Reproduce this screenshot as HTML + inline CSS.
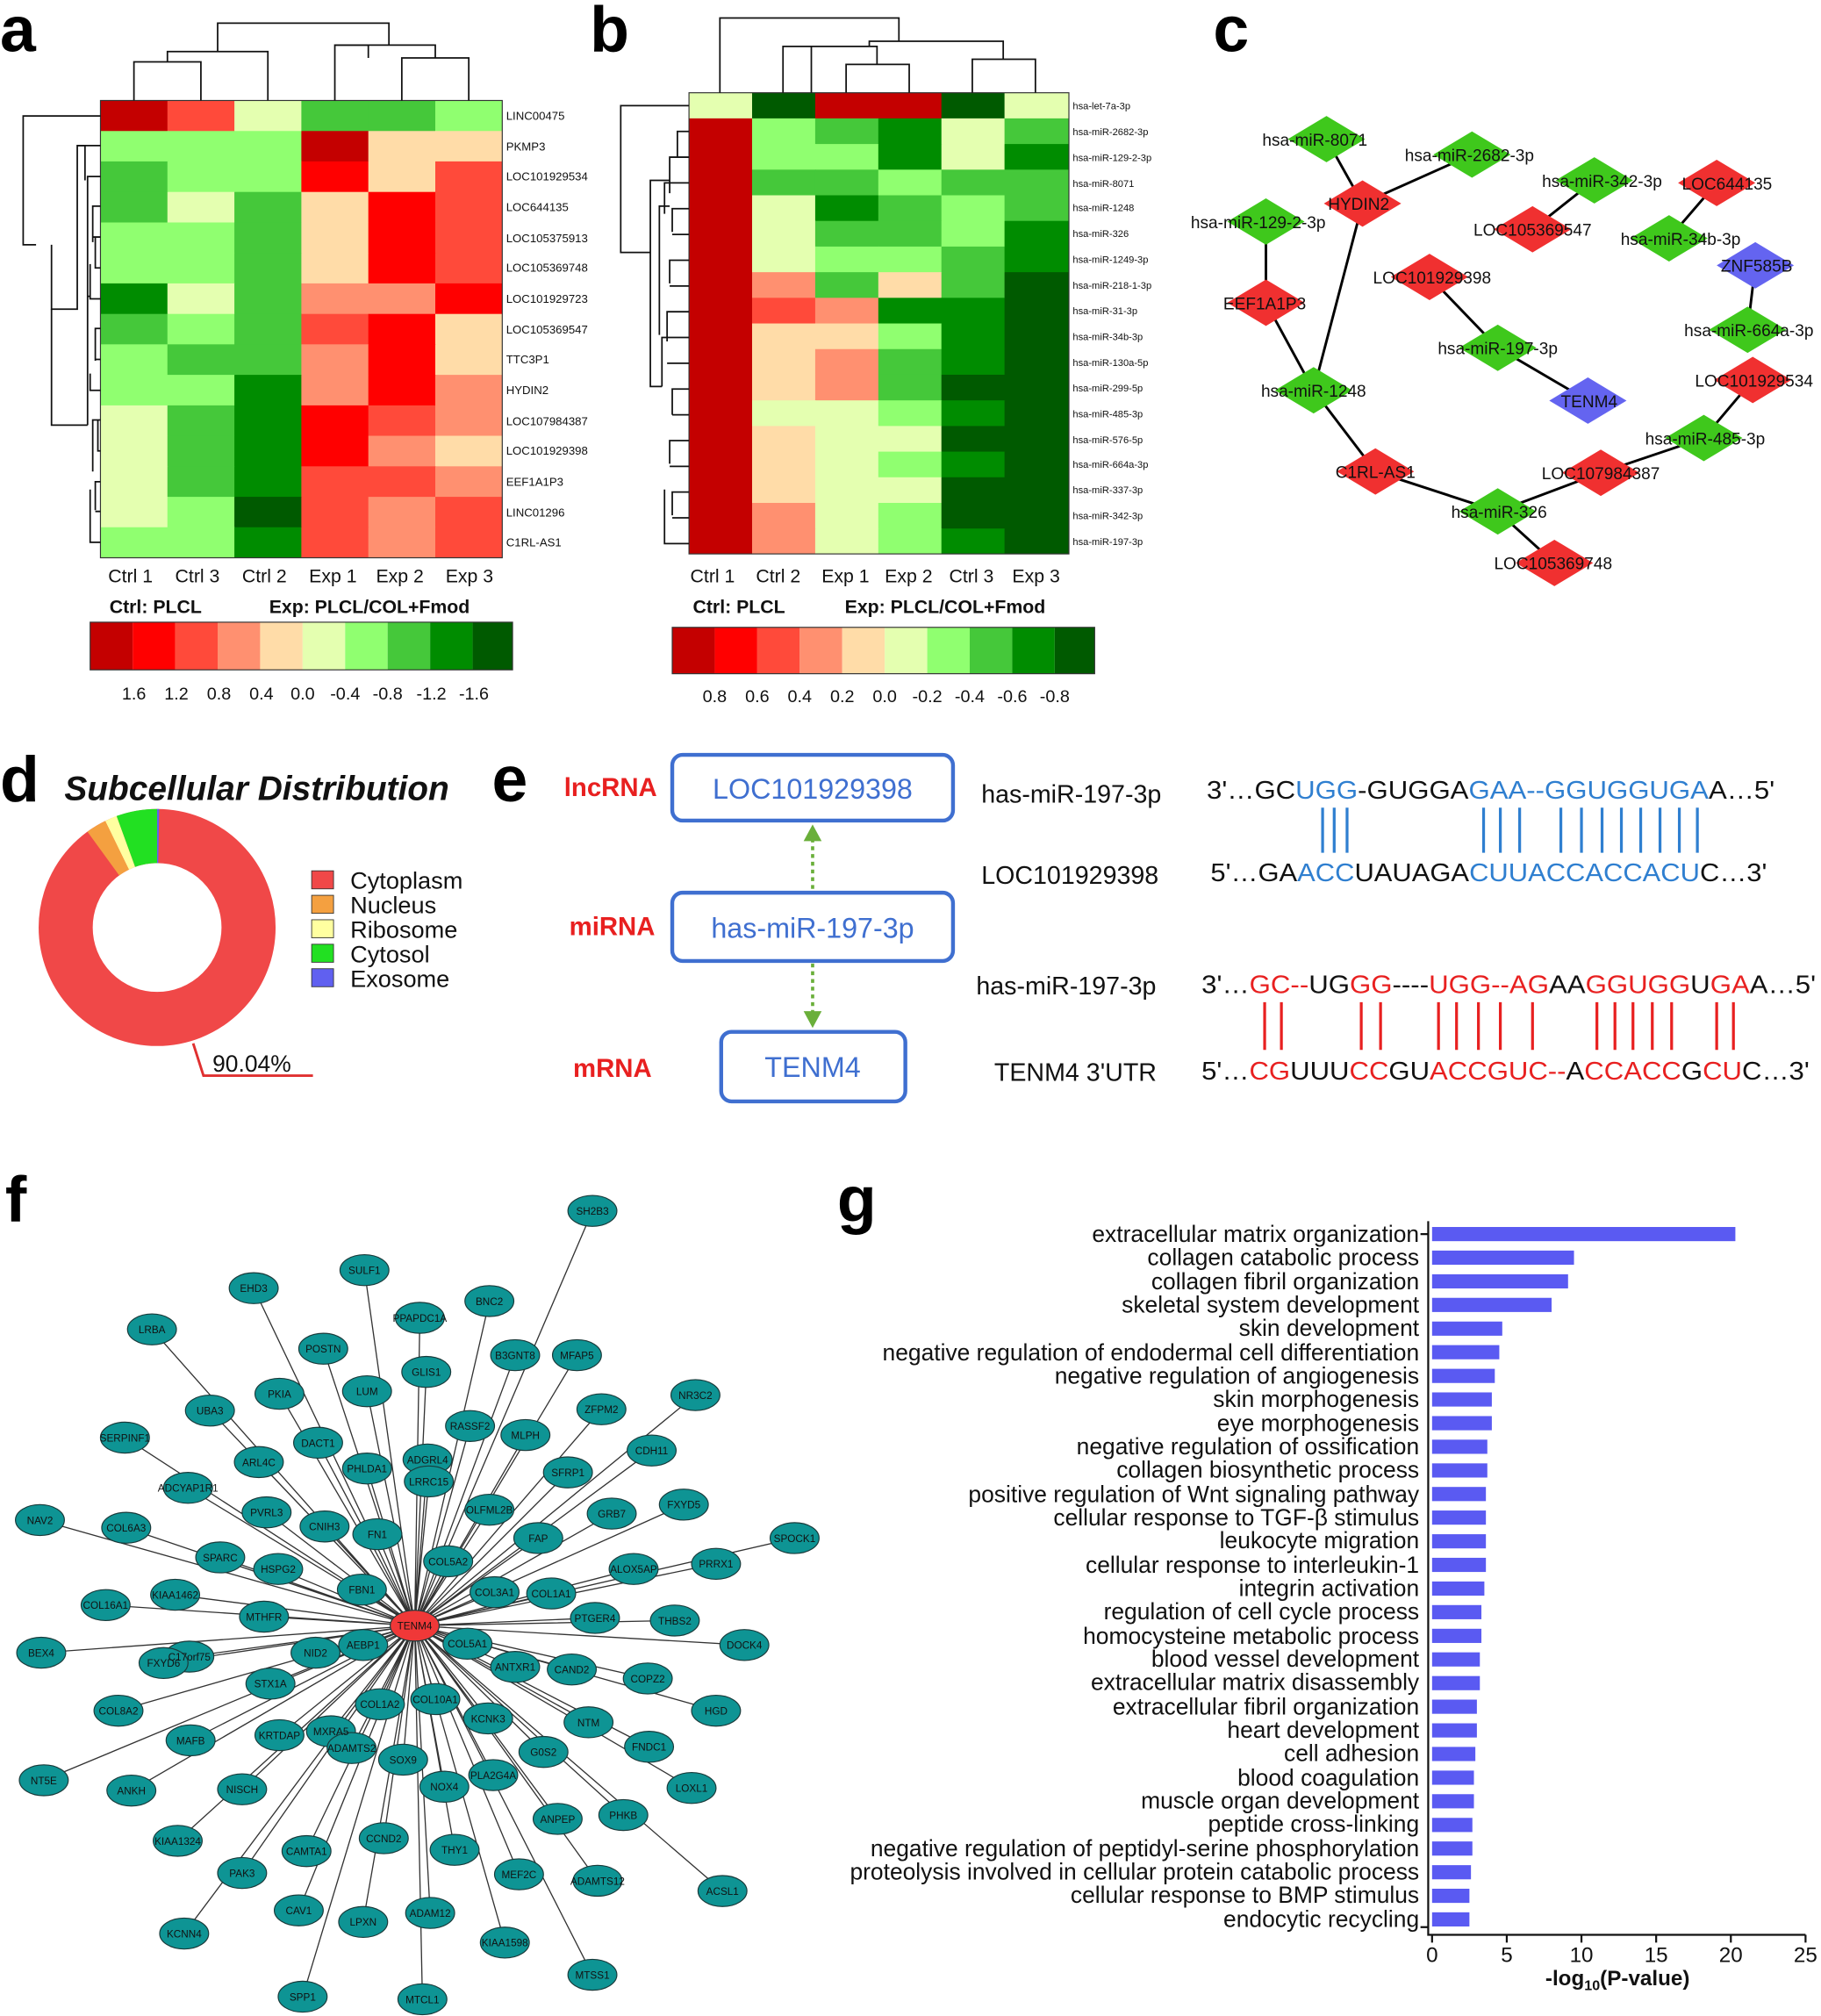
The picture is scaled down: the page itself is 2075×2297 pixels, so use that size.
<!DOCTYPE html>
<html><head><meta charset="utf-8"><style>
html,body{margin:0;padding:0;background:#fff;}
svg{display:block;font-family:"Liberation Sans",Arial,sans-serif;}
</style></head><body>
<svg width="2075" height="2297" viewBox="0 0 1414 1565" preserveAspectRatio="none" xmlns="http://www.w3.org/2000/svg">
<rect width="1414" height="1565" fill="#fff"/>
<g font-weight="bold" font-size="50" fill="#000">
<text x="0" y="40">a</text><text x="458" y="40">b</text><text x="942" y="40">c</text>
<text x="0" y="622">d</text><text x="382" y="622">e</text>
<text x="4" y="948">f</text><text x="650" y="948">g</text>
</g>

<g id="ha">
<rect x="78" y="78" width="52.5" height="24" fill="#C40000"/><rect x="130" y="78" width="52.5" height="24" fill="#FF4A3A"/><rect x="182" y="78" width="52.5" height="24" fill="#E4FFB0"/><rect x="234" y="78" width="52.5" height="24" fill="#45C83A"/><rect x="286" y="78" width="52.5" height="24" fill="#45C83A"/><rect x="338" y="78" width="52" height="24" fill="#90FF70"/>
<rect x="78" y="101.7" width="52.5" height="24" fill="#90FF70"/><rect x="130" y="101.7" width="52.5" height="24" fill="#90FF70"/><rect x="182" y="101.7" width="52.5" height="24" fill="#90FF70"/><rect x="234" y="101.7" width="52.5" height="24" fill="#C40000"/><rect x="286" y="101.7" width="52.5" height="24" fill="#FFDCA8"/><rect x="338" y="101.7" width="52" height="24" fill="#FFDCA8"/>
<rect x="78" y="125.3" width="52.5" height="24" fill="#45C83A"/><rect x="130" y="125.3" width="52.5" height="24" fill="#90FF70"/><rect x="182" y="125.3" width="52.5" height="24" fill="#90FF70"/><rect x="234" y="125.3" width="52.5" height="24" fill="#FF0000"/><rect x="286" y="125.3" width="52.5" height="24" fill="#FFDCA8"/><rect x="338" y="125.3" width="52" height="24" fill="#FF4A3A"/>
<rect x="78" y="149" width="52.5" height="24" fill="#45C83A"/><rect x="130" y="149" width="52.5" height="24" fill="#E4FFB0"/><rect x="182" y="149" width="52.5" height="24" fill="#45C83A"/><rect x="234" y="149" width="52.5" height="24" fill="#FFDCA8"/><rect x="286" y="149" width="52.5" height="24" fill="#FF0000"/><rect x="338" y="149" width="52" height="24" fill="#FF4A3A"/>
<rect x="78" y="172.7" width="52.5" height="24" fill="#90FF70"/><rect x="130" y="172.7" width="52.5" height="24" fill="#90FF70"/><rect x="182" y="172.7" width="52.5" height="24" fill="#45C83A"/><rect x="234" y="172.7" width="52.5" height="24" fill="#FFDCA8"/><rect x="286" y="172.7" width="52.5" height="24" fill="#FF0000"/><rect x="338" y="172.7" width="52" height="24" fill="#FF4A3A"/>
<rect x="78" y="196.3" width="52.5" height="24" fill="#90FF70"/><rect x="130" y="196.3" width="52.5" height="24" fill="#90FF70"/><rect x="182" y="196.3" width="52.5" height="24" fill="#45C83A"/><rect x="234" y="196.3" width="52.5" height="24" fill="#FFDCA8"/><rect x="286" y="196.3" width="52.5" height="24" fill="#FF0000"/><rect x="338" y="196.3" width="52" height="24" fill="#FF4A3A"/>
<rect x="78" y="220" width="52.5" height="24" fill="#008C00"/><rect x="130" y="220" width="52.5" height="24" fill="#E4FFB0"/><rect x="182" y="220" width="52.5" height="24" fill="#45C83A"/><rect x="234" y="220" width="52.5" height="24" fill="#FF9070"/><rect x="286" y="220" width="52.5" height="24" fill="#FF9070"/><rect x="338" y="220" width="52" height="24" fill="#FF0000"/>
<rect x="78" y="243.7" width="52.5" height="24" fill="#45C83A"/><rect x="130" y="243.7" width="52.5" height="24" fill="#90FF70"/><rect x="182" y="243.7" width="52.5" height="24" fill="#45C83A"/><rect x="234" y="243.7" width="52.5" height="24" fill="#FF4A3A"/><rect x="286" y="243.7" width="52.5" height="24" fill="#FF0000"/><rect x="338" y="243.7" width="52" height="24" fill="#FFDCA8"/>
<rect x="78" y="267.3" width="52.5" height="24" fill="#90FF70"/><rect x="130" y="267.3" width="52.5" height="24" fill="#45C83A"/><rect x="182" y="267.3" width="52.5" height="24" fill="#45C83A"/><rect x="234" y="267.3" width="52.5" height="24" fill="#FF9070"/><rect x="286" y="267.3" width="52.5" height="24" fill="#FF0000"/><rect x="338" y="267.3" width="52" height="24" fill="#FFDCA8"/>
<rect x="78" y="291" width="52.5" height="24" fill="#90FF70"/><rect x="130" y="291" width="52.5" height="24" fill="#90FF70"/><rect x="182" y="291" width="52.5" height="24" fill="#008C00"/><rect x="234" y="291" width="52.5" height="24" fill="#FF9070"/><rect x="286" y="291" width="52.5" height="24" fill="#FF0000"/><rect x="338" y="291" width="52" height="24" fill="#FF9070"/>
<rect x="78" y="314.7" width="52.5" height="24" fill="#E4FFB0"/><rect x="130" y="314.7" width="52.5" height="24" fill="#45C83A"/><rect x="182" y="314.7" width="52.5" height="24" fill="#008C00"/><rect x="234" y="314.7" width="52.5" height="24" fill="#FF0000"/><rect x="286" y="314.7" width="52.5" height="24" fill="#FF4A3A"/><rect x="338" y="314.7" width="52" height="24" fill="#FF9070"/>
<rect x="78" y="338.3" width="52.5" height="24" fill="#E4FFB0"/><rect x="130" y="338.3" width="52.5" height="24" fill="#45C83A"/><rect x="182" y="338.3" width="52.5" height="24" fill="#008C00"/><rect x="234" y="338.3" width="52.5" height="24" fill="#FF0000"/><rect x="286" y="338.3" width="52.5" height="24" fill="#FF9070"/><rect x="338" y="338.3" width="52" height="24" fill="#FFDCA8"/>
<rect x="78" y="362" width="52.5" height="24" fill="#E4FFB0"/><rect x="130" y="362" width="52.5" height="24" fill="#45C83A"/><rect x="182" y="362" width="52.5" height="24" fill="#008C00"/><rect x="234" y="362" width="52.5" height="24" fill="#FF4A3A"/><rect x="286" y="362" width="52.5" height="24" fill="#FF4A3A"/><rect x="338" y="362" width="52" height="24" fill="#FF9070"/>
<rect x="78" y="385.7" width="52.5" height="24" fill="#E4FFB0"/><rect x="130" y="385.7" width="52.5" height="24" fill="#90FF70"/><rect x="182" y="385.7" width="52.5" height="24" fill="#005A00"/><rect x="234" y="385.7" width="52.5" height="24" fill="#FF4A3A"/><rect x="286" y="385.7" width="52.5" height="24" fill="#FF9070"/><rect x="338" y="385.7" width="52" height="24" fill="#FF4A3A"/>
<rect x="78" y="409.3" width="52.5" height="24" fill="#90FF70"/><rect x="130" y="409.3" width="52.5" height="24" fill="#90FF70"/><rect x="182" y="409.3" width="52.5" height="24" fill="#008C00"/><rect x="234" y="409.3" width="52.5" height="24" fill="#FF4A3A"/><rect x="286" y="409.3" width="52.5" height="24" fill="#FF9070"/><rect x="338" y="409.3" width="52" height="24" fill="#FF4A3A"/>
<rect x="78" y="78" width="312" height="355" fill="none" stroke="#333" stroke-width="0.8"/>
</g>
<g font-size="9" fill="#111">
<text x="393" y="93">LINC00475</text><text x="393" y="117">PKMP3</text><text x="393" y="140">LOC101929534</text><text x="393" y="164">LOC644135</text><text x="393" y="188">LOC105375913</text><text x="393" y="211">LOC105369748</text><text x="393" y="235">LOC101929723</text><text x="393" y="259">LOC105369547</text><text x="393" y="282">TTC3P1</text><text x="393" y="306">HYDIN2</text><text x="393" y="330">LOC107984387</text><text x="393" y="353">LOC101929398</text><text x="393" y="377">EEF1A1P3</text><text x="393" y="401">LINC01296</text><text x="393" y="424">C1RL-AS1</text>
</g>
<g fill="none" stroke="#111" stroke-width="1.2">
<path d="M104 78V48H156V78M130 48V40H208V78M169 40V18H302V35M286 35H260V78M286 35V45M312 78V45H364V78M338 45V45"/>
<path d="M260 35H338V45"/>
<path d="M78 90H18V190H28M78 113H60V240H40V190"/>
<path d="M60 113H66V140M78 137H68V330M78 160H72V188M78 184H72M78 208H74V184M78 232H70V205M78 255H74V280M78 279H74M78 303H70V290M78 326H72V366M78 350H76V326M78 374H74V396M78 397H74M78 421H70V380M68 230H70"/>
<path d="M40 240V330H68"/>
</g>
<g font-size="14.5" fill="#111">
<text x="84" y="452">Ctrl 1</text><text x="136" y="452">Ctrl 3</text><text x="188" y="452">Ctrl 2</text><text x="240" y="452">Exp 1</text><text x="292" y="452">Exp 2</text><text x="346" y="452">Exp 3</text>
</g>
<g font-size="14.5" font-weight="bold" fill="#111"><text x="85" y="476">Ctrl: PLCL</text><text x="209" y="476">Exp: PLCL/COL+Fmod</text></g>
<g>
<rect x="70" y="483" width="33" height="37" fill="#C40000"/><rect x="103" y="483" width="33" height="37" fill="#FF0000"/><rect x="136" y="483" width="33" height="37" fill="#FF4A3A"/><rect x="169" y="483" width="33" height="37" fill="#FF9070"/><rect x="202" y="483" width="33" height="37" fill="#FFDCA8"/><rect x="235" y="483" width="33" height="37" fill="#E4FFB0"/><rect x="268" y="483" width="33" height="37" fill="#90FF70"/><rect x="301" y="483" width="33" height="37" fill="#45C83A"/><rect x="334" y="483" width="33" height="37" fill="#008C00"/><rect x="367" y="483" width="31" height="37" fill="#005A00"/>
<rect x="70" y="483" width="328" height="37" fill="none" stroke="#333" stroke-width="0.8"/>
</g>
<g font-size="13.5" fill="#111" text-anchor="middle">
<text x="104" y="543">1.6</text><text x="137" y="543">1.2</text><text x="170" y="543">0.8</text><text x="203" y="543">0.4</text><text x="235" y="543">0.0</text><text x="268" y="543">-0.4</text><text x="301" y="543">-0.8</text><text x="335" y="543">-1.2</text><text x="368" y="543">-1.6</text>
</g>

<g>
<rect x="535" y="72" width="49.5" height="20.3" fill="#E4FFB0"/><rect x="584" y="72" width="49.5" height="20.3" fill="#005A00"/><rect x="633" y="72" width="49.5" height="20.3" fill="#C40000"/><rect x="682" y="72" width="49.5" height="20.3" fill="#C40000"/><rect x="731" y="72" width="49.5" height="20.3" fill="#005A00"/><rect x="780" y="72" width="50" height="20.3" fill="#E4FFB0"/>
<rect x="535" y="91.9" width="49.5" height="338.1" fill="#C40000"/>
<rect x="584" y="91.9" width="49.5" height="20.3" fill="#90FF70"/><rect x="633" y="91.9" width="49.5" height="20.3" fill="#45C83A"/><rect x="682" y="91.9" width="49.5" height="20.3" fill="#008C00"/><rect x="731" y="91.9" width="49.5" height="20.3" fill="#E4FFB0"/><rect x="780" y="91.9" width="50" height="20.3" fill="#45C83A"/>
<rect x="584" y="111.8" width="49.5" height="20.3" fill="#90FF70"/><rect x="633" y="111.8" width="49.5" height="20.3" fill="#90FF70"/><rect x="682" y="111.8" width="49.5" height="20.3" fill="#008C00"/><rect x="731" y="111.8" width="49.5" height="20.3" fill="#E4FFB0"/><rect x="780" y="111.8" width="50" height="20.3" fill="#008C00"/>
<rect x="584" y="131.7" width="49.5" height="20.3" fill="#45C83A"/><rect x="633" y="131.7" width="49.5" height="20.3" fill="#45C83A"/><rect x="682" y="131.7" width="49.5" height="20.3" fill="#90FF70"/><rect x="731" y="131.7" width="49.5" height="20.3" fill="#45C83A"/><rect x="780" y="131.7" width="50" height="20.3" fill="#45C83A"/>
<rect x="584" y="151.6" width="49.5" height="20.3" fill="#E4FFB0"/><rect x="633" y="151.6" width="49.5" height="20.3" fill="#008C00"/><rect x="682" y="151.6" width="49.5" height="20.3" fill="#45C83A"/><rect x="731" y="151.6" width="49.5" height="20.3" fill="#90FF70"/><rect x="780" y="151.6" width="50" height="20.3" fill="#45C83A"/>
<rect x="584" y="171.5" width="49.5" height="20.3" fill="#E4FFB0"/><rect x="633" y="171.5" width="49.5" height="20.3" fill="#45C83A"/><rect x="682" y="171.5" width="49.5" height="20.3" fill="#45C83A"/><rect x="731" y="171.5" width="49.5" height="20.3" fill="#90FF70"/><rect x="780" y="171.5" width="50" height="20.3" fill="#008C00"/>
<rect x="584" y="191.4" width="49.5" height="20.3" fill="#E4FFB0"/><rect x="633" y="191.4" width="49.5" height="20.3" fill="#90FF70"/><rect x="682" y="191.4" width="49.5" height="20.3" fill="#90FF70"/><rect x="731" y="191.4" width="49.5" height="20.3" fill="#45C83A"/><rect x="780" y="191.4" width="50" height="20.3" fill="#008C00"/>
<rect x="584" y="211.3" width="49.5" height="20.3" fill="#FF9070"/><rect x="633" y="211.3" width="49.5" height="20.3" fill="#45C83A"/><rect x="682" y="211.3" width="49.5" height="20.3" fill="#FFDCA8"/><rect x="731" y="211.3" width="49.5" height="20.3" fill="#45C83A"/><rect x="780" y="211.3" width="50" height="20.3" fill="#005A00"/>
<rect x="584" y="231.2" width="49.5" height="20.3" fill="#FF4A3A"/><rect x="633" y="231.2" width="49.5" height="20.3" fill="#FF9070"/><rect x="682" y="231.2" width="49.5" height="20.3" fill="#008C00"/><rect x="731" y="231.2" width="49.5" height="20.3" fill="#008C00"/><rect x="780" y="231.2" width="50" height="20.3" fill="#005A00"/>
<rect x="584" y="251.1" width="49.5" height="20.3" fill="#FFDCA8"/><rect x="633" y="251.1" width="49.5" height="20.3" fill="#FFDCA8"/><rect x="682" y="251.1" width="49.5" height="20.3" fill="#90FF70"/><rect x="731" y="251.1" width="49.5" height="20.3" fill="#008C00"/><rect x="780" y="251.1" width="50" height="20.3" fill="#005A00"/>
<rect x="584" y="271" width="49.5" height="20.3" fill="#FFDCA8"/><rect x="633" y="271" width="49.5" height="20.3" fill="#FF9070"/><rect x="682" y="271" width="49.5" height="20.3" fill="#45C83A"/><rect x="731" y="271" width="49.5" height="20.3" fill="#008C00"/><rect x="780" y="271" width="50" height="20.3" fill="#005A00"/>
<rect x="584" y="290.9" width="49.5" height="20.3" fill="#FFDCA8"/><rect x="633" y="290.9" width="49.5" height="20.3" fill="#FF9070"/><rect x="682" y="290.9" width="49.5" height="20.3" fill="#45C83A"/><rect x="731" y="290.9" width="49.5" height="20.3" fill="#005A00"/><rect x="780" y="290.9" width="50" height="20.3" fill="#005A00"/>
<rect x="584" y="310.8" width="49.5" height="20.3" fill="#E4FFB0"/><rect x="633" y="310.8" width="49.5" height="20.3" fill="#E4FFB0"/><rect x="682" y="310.8" width="49.5" height="20.3" fill="#90FF70"/><rect x="731" y="310.8" width="49.5" height="20.3" fill="#008C00"/><rect x="780" y="310.8" width="50" height="20.3" fill="#005A00"/>
<rect x="584" y="330.7" width="49.5" height="20.3" fill="#FFDCA8"/><rect x="633" y="330.7" width="49.5" height="20.3" fill="#E4FFB0"/><rect x="682" y="330.7" width="49.5" height="20.3" fill="#E4FFB0"/><rect x="731" y="330.7" width="49.5" height="20.3" fill="#005A00"/><rect x="780" y="330.7" width="50" height="20.3" fill="#005A00"/>
<rect x="584" y="350.6" width="49.5" height="20.3" fill="#FFDCA8"/><rect x="633" y="350.6" width="49.5" height="20.3" fill="#E4FFB0"/><rect x="682" y="350.6" width="49.5" height="20.3" fill="#90FF70"/><rect x="731" y="350.6" width="49.5" height="20.3" fill="#008C00"/><rect x="780" y="350.6" width="50" height="20.3" fill="#005A00"/>
<rect x="584" y="370.5" width="49.5" height="20.3" fill="#FFDCA8"/><rect x="633" y="370.5" width="49.5" height="20.3" fill="#E4FFB0"/><rect x="682" y="370.5" width="49.5" height="20.3" fill="#E4FFB0"/><rect x="731" y="370.5" width="49.5" height="20.3" fill="#005A00"/><rect x="780" y="370.5" width="50" height="20.3" fill="#005A00"/>
<rect x="584" y="390.4" width="49.5" height="20.3" fill="#FF9070"/><rect x="633" y="390.4" width="49.5" height="20.3" fill="#E4FFB0"/><rect x="682" y="390.4" width="49.5" height="20.3" fill="#90FF70"/><rect x="731" y="390.4" width="49.5" height="20.3" fill="#005A00"/><rect x="780" y="390.4" width="50" height="20.3" fill="#005A00"/>
<rect x="584" y="410.3" width="49.5" height="19.7" fill="#FF9070"/><rect x="633" y="410.3" width="49.5" height="19.7" fill="#E4FFB0"/><rect x="682" y="410.3" width="49.5" height="19.7" fill="#90FF70"/><rect x="731" y="410.3" width="49.5" height="19.7" fill="#008C00"/><rect x="780" y="410.3" width="50" height="19.7" fill="#005A00"/>
<rect x="535" y="72" width="295" height="358" fill="none" stroke="#333" stroke-width="0.8"/>
</g>
<g font-size="7.6" fill="#111">
<text x="833" y="85">hsa-let-7a-3p</text><text x="833" y="105">hsa-miR-2682-3p</text><text x="833" y="125">hsa-miR-129-2-3p</text><text x="833" y="145">hsa-miR-8071</text><text x="833" y="164">hsa-miR-1248</text><text x="833" y="184">hsa-miR-326</text><text x="833" y="204">hsa-miR-1249-3p</text><text x="833" y="224">hsa-miR-218-1-3p</text><text x="833" y="244">hsa-miR-31-3p</text><text x="833" y="264">hsa-miR-34b-3p</text><text x="833" y="284">hsa-miR-130a-5p</text><text x="833" y="304">hsa-miR-299-5p</text><text x="833" y="324">hsa-miR-485-3p</text><text x="833" y="344">hsa-miR-576-5p</text><text x="833" y="363">hsa-miR-664a-3p</text><text x="833" y="383">hsa-miR-337-3p</text><text x="833" y="403">hsa-miR-342-3p</text><text x="833" y="423">hsa-miR-197-3p</text>
</g>
<g fill="none" stroke="#111" stroke-width="1.2">
<path d="M559 72V14H698V32M608 72V36H675V32H755V32M675 32V32M657 72V50H706V72M681 50V42M630 36H608M630 36H681V42M755 72V46H804V72M779 46V32H675"/>
<path d="M630 36V72"/>
<path d="M535 82H482V196H505M535 102H526V110M535 122H526M526 102V122H520V150M535 142H516V166M535 162H522V180M535 182H522M535 202H520V220M535 222H520M520 160H512V260M535 242H518V265M535 262H514V300M535 282H518M535 302H522V322M535 322H522M535 342H520V360M535 362H520M535 382H522V400M535 402H522M535 422H516V380M505 196V140H520M505 196V300H514"/>
</g>
<g font-size="14.5" fill="#111">
<text x="536" y="452">Ctrl 1</text><text x="587" y="452">Ctrl 2</text><text x="638" y="452">Exp 1</text><text x="687" y="452">Exp 2</text><text x="737" y="452">Ctrl 3</text><text x="786" y="452">Exp 3</text>
</g>
<g font-size="14.5" font-weight="bold" fill="#111"><text x="538" y="476">Ctrl: PLCL</text><text x="656" y="476">Exp: PLCL/COL+Fmod</text></g>
<g>
<rect x="522" y="487" width="33" height="36" fill="#C40000"/><rect x="555" y="487" width="33" height="36" fill="#FF0000"/><rect x="588" y="487" width="33" height="36" fill="#FF4A3A"/><rect x="621" y="487" width="33" height="36" fill="#FF9070"/><rect x="654" y="487" width="33" height="36" fill="#FFDCA8"/><rect x="687" y="487" width="33" height="36" fill="#E4FFB0"/><rect x="720" y="487" width="33" height="36" fill="#90FF70"/><rect x="753" y="487" width="33" height="36" fill="#45C83A"/><rect x="786" y="487" width="33" height="36" fill="#008C00"/><rect x="819" y="487" width="31" height="36" fill="#005A00"/>
<rect x="522" y="487" width="328" height="36" fill="none" stroke="#333" stroke-width="0.8"/>
</g>
<g font-size="13.5" fill="#111" text-anchor="middle">
<text x="555" y="545">0.8</text><text x="588" y="545">0.6</text><text x="621" y="545">0.4</text><text x="654" y="545">0.2</text><text x="687" y="545">0.0</text><text x="720" y="545">-0.2</text><text x="753" y="545">-0.4</text><text x="786" y="545">-0.6</text><text x="819" y="545">-0.8</text>
</g>

<g stroke="#000" stroke-width="2" fill="none">
<path d="M1030 108L1058 158L1143 120M1058 158L1020 303M983 172L983 235L1020 303L1068 366L1163 397L1243 367L1323 340L1361 295M1163 397L1207 437M1238 140L1190 178M1333 142L1296 185M1363 206L1357 256M1110 215L1163 270L1233 311"/>
</g>
<g>
<path d="M1030 90l30 18-30 18-30-18z" fill="#3FC81C"/>
<path d="M1143 102l30 18-30 18-30-18z" fill="#3FC81C"/>
<path d="M1058 140l30 18-30 18-30-18z" fill="#F03030"/>
<path d="M983 154l30 18-30 18-30-18z" fill="#3FC81C"/>
<path d="M1238 122l30 18-30 18-30-18z" fill="#3FC81C"/>
<path d="M1333 124l30 18-30 18-30-18z" fill="#F03030"/>
<path d="M1190 160l30 18-30 18-30-18z" fill="#F03030"/>
<path d="M1296 167l30 18-30 18-30-18z" fill="#3FC81C"/>
<path d="M1363 188l30 18-30 18-30-18z" fill="#6464F0"/>
<path d="M1110 197l30 18-30 18-30-18z" fill="#F03030"/>
<path d="M983 217l30 18-30 18-30-18z" fill="#F03030"/>
<path d="M1357 238l30 18-30 18-30-18z" fill="#3FC81C"/>
<path d="M1163 252l30 18-30 18-30-18z" fill="#3FC81C"/>
<path d="M1020 285l30 18-30 18-30-18z" fill="#3FC81C"/>
<path d="M1233 293l30 18-30 18-30-18z" fill="#6464F0"/>
<path d="M1361 277l30 18-30 18-30-18z" fill="#F03030"/>
<path d="M1323 322l30 18-30 18-30-18z" fill="#3FC81C"/>
<path d="M1068 348l30 18-30 18-30-18z" fill="#F03030"/>
<path d="M1243 349l30 18-30 18-30-18z" fill="#F03030"/>
<path d="M1163 379l30 18-30 18-30-18z" fill="#3FC81C"/>
<path d="M1207 419l30 18-30 18-30-18z" fill="#F03030"/>
</g>
<g font-size="13" fill="#111" text-anchor="middle">
<text x="1021" y="113">hsa-miR-8071</text><text x="1141" y="125">hsa-miR-2682-3p</text><text x="1055" y="163">HYDIN2</text><text x="977" y="177">hsa-miR-129-2-3p</text><text x="1244" y="145">hsa-miR-342-3p</text><text x="1341" y="147">LOC644135</text><text x="1190" y="183">LOC105369547</text><text x="1305" y="190">hsa-miR-34b-3p</text><text x="1364" y="211">ZNF585B</text><text x="1112" y="220">LOC101929398</text><text x="982" y="240">EEF1A1P3</text><text x="1358" y="261">hsa-miR-664a-3p</text><text x="1163" y="275">hsa-miR-197-3p</text><text x="1020" y="308">hsa-miR-1248</text><text x="1234" y="316">TENM4</text><text x="1362" y="300">LOC101929534</text><text x="1324" y="345">hsa-miR-485-3p</text><text x="1068" y="371">C1RL-AS1</text><text x="1243" y="372">LOC107984387</text><text x="1164" y="402">hsa-miR-326</text><text x="1206" y="442">LOC105369748</text>
</g>

<text x="50" y="621" font-size="26.5" font-weight="bold" font-style="italic" fill="#111">Subcellular Distribution</text>
<g transform="translate(122,720)">
<circle r="71" fill="none" stroke="#F04848" stroke-width="42"/>
<path d="M0 -92A92 92 0 0 0 -31.5 -86.5L-17.1 -47A50 50 0 0 1 0 -50Z" fill="#22E022"/>
<path d="M-31.5 -86.5A92 92 0 0 0 -40.3 -82.7L-21.9 -44.9A50 50 0 0 1 -17.1 -47Z" fill="#FFFFA0"/>
<path d="M-40.3 -82.7A92 92 0 0 0 -54.1 -74.4L-29.4 -40.4A50 50 0 0 1 -21.9 -44.9Z" fill="#F4A040"/>
<path d="M0 -92A92 92 0 0 1 1.6 -92L0.9 -50A50 50 0 0 0 0 -50Z" fill="#6060F0"/>
</g>
<path d="M150 810L158 835H243" fill="none" stroke="#E03030" stroke-width="2"/>
<text x="165" y="832" font-size="18" fill="#111">90.04%</text>
<g>
<rect x="242" y="676" width="17" height="14" fill="#F04848" stroke="#333" stroke-width="0.6"/>
<rect x="242" y="695" width="17" height="14" fill="#F4A040" stroke="#333" stroke-width="0.6"/>
<rect x="242" y="714" width="17" height="14" fill="#FFFFA0" stroke="#333" stroke-width="0.6"/>
<rect x="242" y="733" width="17" height="14" fill="#22E022" stroke="#333" stroke-width="0.6"/>
<rect x="242" y="752" width="17" height="14" fill="#6060F0" stroke="#333" stroke-width="0.6"/>
</g>
<g font-size="18.5" fill="#111">
<text x="272" y="690">Cytoplasm</text><text x="272" y="709">Nucleus</text><text x="272" y="728">Ribosome</text><text x="272" y="747">Cytosol</text><text x="272" y="766">Exosome</text>
</g>

<g font-size="20" font-weight="bold" fill="#E82020">
<text x="438" y="618">lncRNA</text><text x="442" y="726">miRNA</text><text x="445" y="836">mRNA</text>
</g>
<g fill="#fff" stroke="#3F6FD0" stroke-width="3">
<rect x="522" y="586" width="218" height="51" rx="8"/>
<rect x="522" y="693" width="218" height="53" rx="8"/>
<rect x="560" y="801" width="143" height="54" rx="8"/>
</g>
<g font-size="22" fill="#3F6FD0" text-anchor="middle">
<text x="631" y="620">LOC101929398</text><text x="631" y="728">has-miR-197-3p</text><text x="631" y="836">TENM4</text>
</g>
<g stroke="#6AAF3A" stroke-width="2.5" stroke-dasharray="3 3" fill="#6AAF3A">
<path d="M631 690V650" fill="none"/><path d="M631 748V788" fill="none"/>
</g>
<path d="M624 653L631 640L638 653Z" fill="#6AAF3A"/>
<path d="M624 785L631 798L638 785Z" fill="#6AAF3A"/>
<g font-size="19.5" fill="#111">
<text x="762" y="623">has-miR-197-3p</text><text x="762" y="686">LOC101929398</text>
<text x="758" y="772">has-miR-197-3p</text><text x="772" y="839">TENM4 3'UTR</text>
</g>
<g font-size="19.5">
<text x="937" y="620" textLength="441" lengthAdjust="spacingAndGlyphs"><tspan fill="#111">3'…GC</tspan><tspan fill="#2F7FD0">UGG</tspan><tspan fill="#111">-GUGGA</tspan><tspan fill="#2F7FD0">GAA--GGUGGUGA</tspan><tspan fill="#111">A…5'</tspan></text>
<text x="940" y="684" textLength="432" lengthAdjust="spacingAndGlyphs"><tspan fill="#111">5'…GA</tspan><tspan fill="#2F7FD0">ACC</tspan><tspan fill="#111">UAUAGA</tspan><tspan fill="#2F7FD0">CUUACCACCACU</tspan><tspan fill="#111">C…3'</tspan></text>
<text x="933" y="771" textLength="477" lengthAdjust="spacingAndGlyphs"><tspan fill="#111">3'…</tspan><tspan fill="#E82020">GC--</tspan><tspan fill="#111">UG</tspan><tspan fill="#E82020">GG</tspan><tspan fill="#111">----</tspan><tspan fill="#E82020">UGG--AG</tspan><tspan fill="#111">AA</tspan><tspan fill="#E82020">GGUGG</tspan><tspan fill="#111">U</tspan><tspan fill="#E82020">GA</tspan><tspan fill="#111">A…5'</tspan></text>
<text x="933" y="838" textLength="472" lengthAdjust="spacingAndGlyphs"><tspan fill="#111">5'…</tspan><tspan fill="#E82020">CG</tspan><tspan fill="#111">UUU</tspan><tspan fill="#E82020">CC</tspan><tspan fill="#111">GU</tspan><tspan fill="#E82020">ACCGUC--</tspan><tspan fill="#111">A</tspan><tspan fill="#E82020">CCACC</tspan><tspan fill="#111">G</tspan><tspan fill="#E82020">CU</tspan><tspan fill="#111">C…3'</tspan></text>
</g>
<g stroke="#2F7FD0" stroke-width="2.2">
<path d="M1027 627V662M1036 627V662M1046 627V662M1152 627V662M1165 627V662M1180 627V662M1212 627V662M1228 627V662M1244 627V662M1259 627V662M1274 627V662M1289 627V662M1304 627V662M1318 627V662"/>
</g>
<g stroke="#E82020" stroke-width="2.2">
<path d="M982 778V815M995 778V815M1057 778V815M1072 778V815M1117 778V815M1131 778V815M1148 778V815M1165 778V815M1190 778V815M1240 778V815M1254 778V815M1268 778V815M1283 778V815M1298 778V815M1333 778V815M1346 778V815"/>
</g>

<g stroke="#333" stroke-width="0.9">
<path d="M322 1262L460 940M322 1262L197 1000M322 1262L283 986M322 1262L380 1010M322 1262L326 1023M322 1262L118 1032M322 1262L251 1047M322 1262L400 1052M322 1262L448 1052M322 1262L331 1065M322 1262L285 1080M322 1262L163 1095M322 1262L217 1082M322 1262L540 1083M322 1262L467 1094M322 1262L365 1107M322 1262L97 1116M322 1262L408 1114M322 1262L247 1120M322 1262L506 1126M322 1262L201 1135M322 1262L332 1133M322 1262L441 1143M322 1262L285 1140M322 1262L146 1155M322 1262L207 1174M322 1262L252 1185M322 1262L333 1150M322 1262L380 1172M322 1262L475 1175M322 1262L531 1168M322 1262L31 1180M322 1262L98 1186M322 1262L293 1191M322 1262L418 1194M322 1262L617 1194M322 1262L171 1209M322 1262L216 1218M322 1262L348 1212M322 1262L492 1218M322 1262L556 1214M322 1262L136 1238M322 1262L281 1234M322 1262L384 1236M322 1262L428 1237M322 1262L82 1246M322 1262L205 1255M322 1262L462 1256M322 1262L524 1258M322 1262L32 1283M322 1262L282 1277M322 1262L363 1276M322 1262L578 1277M322 1262L147 1286M322 1262L245 1283M322 1262L127 1291M322 1262L400 1294M322 1262L444 1296M322 1262L210 1307M322 1262L503 1303M322 1262L295 1323M322 1262L338 1319M322 1262L92 1328M322 1262L257 1344M322 1262L217 1347M322 1262L379 1334M322 1262L556 1328M322 1262L457 1337M322 1262L148 1351M322 1262L273 1357M322 1262L422 1360M322 1262L504 1356M322 1262L34 1382M322 1262L313 1366M322 1262L345 1387M322 1262L383 1378M322 1262L537 1388M322 1262L102 1390M322 1262L188 1389M322 1262L433 1412M322 1262L484 1409M322 1262L138 1429M322 1262L238 1437M322 1262L353 1436M322 1262L298 1427M322 1262L188 1454M322 1262L403 1455M322 1262L464 1460M322 1262L561 1468M322 1262L392 1508M322 1262L232 1483M322 1262L282 1492M322 1262L334 1485M322 1262L143 1501M322 1262L460 1533M322 1262L235 1550M322 1262L328 1552"/>
</g>
<g fill="#0E9494" stroke="#1a3a3a" stroke-width="0.8">
<ellipse cx="460" cy="940" rx="19" ry="12"/><ellipse cx="197" cy="1000" rx="19" ry="12"/><ellipse cx="283" cy="986" rx="19" ry="12"/><ellipse cx="380" cy="1010" rx="19" ry="12"/><ellipse cx="326" cy="1023" rx="19" ry="12"/><ellipse cx="118" cy="1032" rx="19" ry="12"/><ellipse cx="251" cy="1047" rx="19" ry="12"/><ellipse cx="400" cy="1052" rx="19" ry="12"/><ellipse cx="448" cy="1052" rx="19" ry="12"/><ellipse cx="331" cy="1065" rx="19" ry="12"/><ellipse cx="285" cy="1080" rx="19" ry="12"/><ellipse cx="163" cy="1095" rx="19" ry="12"/><ellipse cx="217" cy="1082" rx="19" ry="12"/><ellipse cx="540" cy="1083" rx="19" ry="12"/><ellipse cx="467" cy="1094" rx="19" ry="12"/><ellipse cx="365" cy="1107" rx="19" ry="12"/><ellipse cx="97" cy="1116" rx="19" ry="12"/><ellipse cx="408" cy="1114" rx="19" ry="12"/><ellipse cx="247" cy="1120" rx="19" ry="12"/><ellipse cx="506" cy="1126" rx="19" ry="12"/><ellipse cx="201" cy="1135" rx="19" ry="12"/><ellipse cx="332" cy="1133" rx="19" ry="12"/><ellipse cx="441" cy="1143" rx="19" ry="12"/><ellipse cx="285" cy="1140" rx="19" ry="12"/><ellipse cx="146" cy="1155" rx="19" ry="12"/><ellipse cx="207" cy="1174" rx="19" ry="12"/><ellipse cx="252" cy="1185" rx="19" ry="12"/><ellipse cx="333" cy="1150" rx="19" ry="12"/><ellipse cx="380" cy="1172" rx="19" ry="12"/><ellipse cx="475" cy="1175" rx="19" ry="12"/><ellipse cx="531" cy="1168" rx="19" ry="12"/><ellipse cx="31" cy="1180" rx="19" ry="12"/><ellipse cx="98" cy="1186" rx="19" ry="12"/><ellipse cx="293" cy="1191" rx="19" ry="12"/><ellipse cx="418" cy="1194" rx="19" ry="12"/><ellipse cx="617" cy="1194" rx="19" ry="12"/><ellipse cx="171" cy="1209" rx="19" ry="12"/><ellipse cx="216" cy="1218" rx="19" ry="12"/><ellipse cx="348" cy="1212" rx="19" ry="12"/><ellipse cx="492" cy="1218" rx="19" ry="12"/><ellipse cx="556" cy="1214" rx="19" ry="12"/><ellipse cx="136" cy="1238" rx="19" ry="12"/><ellipse cx="281" cy="1234" rx="19" ry="12"/><ellipse cx="384" cy="1236" rx="19" ry="12"/><ellipse cx="428" cy="1237" rx="19" ry="12"/><ellipse cx="82" cy="1246" rx="19" ry="12"/><ellipse cx="205" cy="1255" rx="19" ry="12"/><ellipse cx="462" cy="1256" rx="19" ry="12"/><ellipse cx="524" cy="1258" rx="19" ry="12"/><ellipse cx="32" cy="1283" rx="19" ry="12"/><ellipse cx="282" cy="1277" rx="19" ry="12"/><ellipse cx="363" cy="1276" rx="19" ry="12"/><ellipse cx="578" cy="1277" rx="19" ry="12"/><ellipse cx="147" cy="1286" rx="19" ry="12"/><ellipse cx="245" cy="1283" rx="19" ry="12"/><ellipse cx="127" cy="1291" rx="19" ry="12"/><ellipse cx="400" cy="1294" rx="19" ry="12"/><ellipse cx="444" cy="1296" rx="19" ry="12"/><ellipse cx="210" cy="1307" rx="19" ry="12"/><ellipse cx="503" cy="1303" rx="19" ry="12"/><ellipse cx="295" cy="1323" rx="19" ry="12"/><ellipse cx="338" cy="1319" rx="19" ry="12"/><ellipse cx="92" cy="1328" rx="19" ry="12"/><ellipse cx="257" cy="1344" rx="19" ry="12"/><ellipse cx="217" cy="1347" rx="19" ry="12"/><ellipse cx="379" cy="1334" rx="19" ry="12"/><ellipse cx="556" cy="1328" rx="19" ry="12"/><ellipse cx="457" cy="1337" rx="19" ry="12"/><ellipse cx="148" cy="1351" rx="19" ry="12"/><ellipse cx="273" cy="1357" rx="19" ry="12"/><ellipse cx="422" cy="1360" rx="19" ry="12"/><ellipse cx="504" cy="1356" rx="19" ry="12"/><ellipse cx="34" cy="1382" rx="19" ry="12"/><ellipse cx="313" cy="1366" rx="19" ry="12"/><ellipse cx="345" cy="1387" rx="19" ry="12"/><ellipse cx="383" cy="1378" rx="19" ry="12"/><ellipse cx="537" cy="1388" rx="19" ry="12"/><ellipse cx="102" cy="1390" rx="19" ry="12"/><ellipse cx="188" cy="1389" rx="19" ry="12"/><ellipse cx="433" cy="1412" rx="19" ry="12"/><ellipse cx="484" cy="1409" rx="19" ry="12"/><ellipse cx="138" cy="1429" rx="19" ry="12"/><ellipse cx="238" cy="1437" rx="19" ry="12"/><ellipse cx="353" cy="1436" rx="19" ry="12"/><ellipse cx="298" cy="1427" rx="19" ry="12"/><ellipse cx="188" cy="1454" rx="19" ry="12"/><ellipse cx="403" cy="1455" rx="19" ry="12"/><ellipse cx="464" cy="1460" rx="19" ry="12"/><ellipse cx="561" cy="1468" rx="19" ry="12"/><ellipse cx="392" cy="1508" rx="19" ry="12"/><ellipse cx="232" cy="1483" rx="19" ry="12"/><ellipse cx="282" cy="1492" rx="19" ry="12"/><ellipse cx="334" cy="1485" rx="19" ry="12"/><ellipse cx="143" cy="1501" rx="19" ry="12"/><ellipse cx="460" cy="1533" rx="19" ry="12"/><ellipse cx="235" cy="1550" rx="19" ry="12"/><ellipse cx="328" cy="1552" rx="19" ry="12"/>
<ellipse cx="322" cy="1262" rx="19" ry="12" fill="#F03838"/>
</g>
<g font-size="8" fill="#111" text-anchor="middle">
<text x="460" y="943">SH2B3</text><text x="197" y="1003">EHD3</text><text x="283" y="989">SULF1</text><text x="380" y="1013">BNC2</text><text x="326" y="1026">PPAPDC1A</text><text x="118" y="1035">LRBA</text><text x="251" y="1050">POSTN</text><text x="400" y="1055">B3GNT8</text><text x="448" y="1055">MFAP5</text><text x="331" y="1068">GLIS1</text><text x="285" y="1083">LUM</text><text x="163" y="1098">UBA3</text><text x="217" y="1085">PKIA</text><text x="540" y="1086">NR3C2</text><text x="467" y="1097">ZFPM2</text><text x="365" y="1110">RASSF2</text><text x="97" y="1119">SERPINF1</text><text x="408" y="1117">MLPH</text><text x="247" y="1123">DACT1</text><text x="506" y="1129">CDH11</text><text x="201" y="1138">ARL4C</text><text x="332" y="1136">ADGRL4</text><text x="441" y="1146">SFRP1</text><text x="285" y="1143">PHLDA1</text><text x="146" y="1158">ADCYAP1R1</text><text x="207" y="1177">PVRL3</text><text x="252" y="1188">CNIH3</text><text x="333" y="1153">LRRC15</text><text x="380" y="1175">OLFML2B</text><text x="475" y="1178">GRB7</text><text x="531" y="1171">FXYD5</text><text x="31" y="1183">NAV2</text><text x="98" y="1189">COL6A3</text><text x="293" y="1194">FN1</text><text x="418" y="1197">FAP</text><text x="617" y="1197">SPOCK1</text><text x="171" y="1212">SPARC</text><text x="216" y="1221">HSPG2</text><text x="348" y="1215">COL5A2</text><text x="492" y="1221">ALOX5AP</text><text x="556" y="1217">PRRX1</text><text x="136" y="1241">KIAA1462</text><text x="281" y="1237">FBN1</text><text x="384" y="1239">COL3A1</text><text x="428" y="1240">COL1A1</text><text x="82" y="1249">COL16A1</text><text x="205" y="1258">MTHFR</text><text x="462" y="1259">PTGER4</text><text x="524" y="1261">THBS2</text><text x="32" y="1286">BEX4</text><text x="282" y="1280">AEBP1</text><text x="363" y="1279">COL5A1</text><text x="578" y="1280">DOCK4</text><text x="147" y="1289">C17orf75</text><text x="245" y="1286">NID2</text><text x="127" y="1294">FXYD6</text><text x="400" y="1297">ANTXR1</text><text x="444" y="1299">CAND2</text><text x="210" y="1310">STX1A</text><text x="503" y="1306">COPZ2</text><text x="295" y="1326">COL1A2</text><text x="338" y="1322">COL10A1</text><text x="92" y="1331">COL8A2</text><text x="257" y="1347">MXRA5</text><text x="217" y="1350">KRTDAP</text><text x="379" y="1337">KCNK3</text><text x="556" y="1331">HGD</text><text x="457" y="1340">NTM</text><text x="148" y="1354">MAFB</text><text x="273" y="1360">ADAMTS2</text><text x="422" y="1363">G0S2</text><text x="504" y="1359">FNDC1</text><text x="34" y="1385">NT5E</text><text x="313" y="1369">SOX9</text><text x="345" y="1390">NOX4</text><text x="383" y="1381">PLA2G4A</text><text x="537" y="1391">LOXL1</text><text x="102" y="1393">ANKH</text><text x="188" y="1392">NISCH</text><text x="433" y="1415">ANPEP</text><text x="484" y="1412">PHKB</text><text x="138" y="1432">KIAA1324</text><text x="238" y="1440">CAMTA1</text><text x="353" y="1439">THY1</text><text x="298" y="1430">CCND2</text><text x="188" y="1457">PAK3</text><text x="403" y="1458">MEF2C</text><text x="464" y="1463">ADAMTS12</text><text x="561" y="1471">ACSL1</text><text x="392" y="1511">KIAA1598</text><text x="232" y="1486">CAV1</text><text x="282" y="1495">LPXN</text><text x="334" y="1488">ADAM12</text><text x="143" y="1504">KCNN4</text><text x="460" y="1536">MTSS1</text><text x="235" y="1553">SPP1</text><text x="328" y="1555">MTCL1</text><text x="322" y="1265">TENM4</text>
</g>

<g fill="#5A5AF2">
<rect x="1112" y="952.5" width="235.5" height="11"/><rect x="1112" y="970.8" width="110.2" height="11"/><rect x="1112" y="989.2" width="105.6" height="11"/><rect x="1112" y="1007.5" width="92.8" height="11"/><rect x="1112" y="1025.9" width="54.5" height="11"/><rect x="1112" y="1044.2" width="52.2" height="11"/><rect x="1112" y="1062.6" width="48.7" height="11"/><rect x="1112" y="1080.9" width="46.4" height="11"/><rect x="1112" y="1099.3" width="46.4" height="11"/><rect x="1112" y="1117.6" width="42.9" height="11"/><rect x="1112" y="1136" width="42.9" height="11"/><rect x="1112" y="1154.3" width="41.8" height="11"/><rect x="1112" y="1172.6" width="41.8" height="11"/><rect x="1112" y="1191" width="41.8" height="11"/><rect x="1112" y="1209.3" width="41.8" height="11"/><rect x="1112" y="1227.7" width="40.6" height="11"/><rect x="1112" y="1246" width="38.3" height="11"/><rect x="1112" y="1264.4" width="38.3" height="11"/><rect x="1112" y="1282.7" width="37.1" height="11"/><rect x="1112" y="1301.1" width="37.1" height="11"/><rect x="1112" y="1319.4" width="34.8" height="11"/><rect x="1112" y="1337.8" width="34.8" height="11"/><rect x="1112" y="1356.1" width="33.6" height="11"/><rect x="1112" y="1374.5" width="32.5" height="11"/><rect x="1112" y="1392.8" width="32.5" height="11"/><rect x="1112" y="1411.2" width="31.3" height="11"/><rect x="1112" y="1429.5" width="31.3" height="11"/><rect x="1112" y="1447.9" width="30.2" height="11"/><rect x="1112" y="1466.2" width="29" height="11"/><rect x="1112" y="1484.5" width="29" height="11"/>
</g>
<g font-size="18" fill="#111" text-anchor="end">
<text x="1102" y="964">extracellular matrix organization</text><text x="1102" y="982">collagen catabolic process</text><text x="1102" y="1001">collagen fibril organization</text><text x="1102" y="1019">skeletal system development</text><text x="1102" y="1037">skin development</text><text x="1102" y="1056">negative regulation of endodermal cell differentiation</text><text x="1102" y="1074">negative regulation of angiogenesis</text><text x="1102" y="1092">skin morphogenesis</text><text x="1102" y="1111">eye morphogenesis</text><text x="1102" y="1129">negative regulation of ossification</text><text x="1102" y="1147">collagen biosynthetic process</text><text x="1102" y="1166">positive regulation of Wnt signaling pathway</text><text x="1102" y="1184">cellular response to TGF-β stimulus</text><text x="1102" y="1202">leukocyte migration</text><text x="1102" y="1221">cellular response to interleukin-1</text><text x="1102" y="1239">integrin activation</text><text x="1102" y="1257">regulation of cell cycle process</text><text x="1102" y="1276">homocysteine metabolic process</text><text x="1102" y="1294">blood vessel development</text><text x="1102" y="1312">extracellular matrix disassembly</text><text x="1102" y="1331">extracellular fibril organization</text><text x="1102" y="1349">heart development</text><text x="1102" y="1367">cell adhesion</text><text x="1102" y="1386">blood coagulation</text><text x="1102" y="1404">muscle organ development</text><text x="1102" y="1422">peptide cross-linking</text><text x="1102" y="1441">negative regulation of peptidyl-serine phosphorylation</text><text x="1102" y="1459">proteolysis involved in cellular protein catabolic process</text><text x="1102" y="1477">cellular response to BMP stimulus</text><text x="1102" y="1496">endocytic recycling</text>
</g>
<g stroke="#111" stroke-width="1.5" fill="none">
<path d="M1109 948V1502H1402"/>
<path d="M1103 958H1109M1103 1496H1109M1112 1502V1508M1170 1502V1508M1228 1502V1508M1286 1502V1508M1344 1502V1508M1402 1502V1508"/>
</g>
<g font-size="16.5" fill="#111" text-anchor="middle">
<text x="1112" y="1523">0</text><text x="1170" y="1523">5</text><text x="1228" y="1523">10</text><text x="1286" y="1523">15</text><text x="1344" y="1523">20</text><text x="1402" y="1523">25</text>
</g>
<text x="1256" y="1541" font-size="16.5" font-weight="bold" fill="#111" text-anchor="middle">-log<tspan font-size="11" dy="4">10</tspan><tspan dy="-4">(P-value)</tspan></text>
</svg>
</body></html>
